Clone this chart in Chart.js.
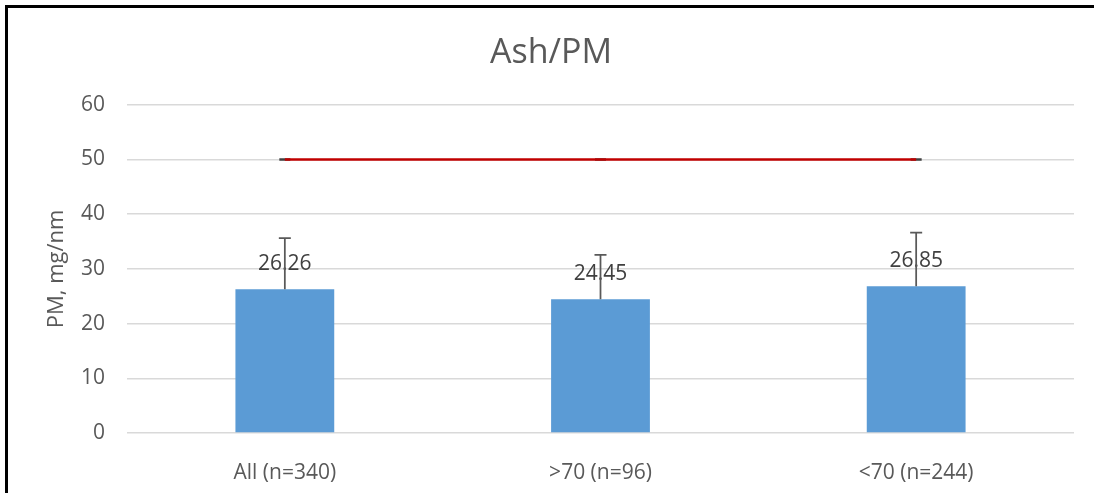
<!DOCTYPE html>
<html>
<head>
<meta charset="utf-8">
<script src="https://cdn.jsdelivr.net/npm/chart.js@4.4.1/dist/chart.umd.min.js"></script>
<style>
html,body{margin:0;padding:0;background:#fff;overflow:hidden;}
#wrap{position:relative;width:1094px;height:493px;}
canvas{display:block;}
</style>
</head>
<body>
<div id="wrap"><canvas id="c" width="1094" height="493"></canvas></div>
<script>
const categories = ['All (n=340)', '>70 (n=96)', '<70 (n=244)'];
const pmValues = [26.26, 24.45, 26.85];
const pmErrors = [9.35, 8.1, 9.8];
const limitValues = [50, 50, 50];
const yTicks = [0, 10, 20, 30, 40, 50, 60];

const FONT = "'Open Sans', 'Liberation Sans', sans-serif";
const TEXT = '#595959';

const frame = {
  id: 'frame',
  beforeDraw(chart) {
    const ctx = chart.ctx;
    ctx.save();
    ctx.fillStyle = '#fff';
    ctx.fillRect(0, 0, chart.width, chart.height);
    ctx.strokeStyle = '#000';
    ctx.lineWidth = 3;
    ctx.beginPath();
    ctx.moveTo(6.5, chart.height);
    ctx.lineTo(6.5, 6.5);
    ctx.lineTo(chart.width, 6.5);
    ctx.stroke();
    ctx.restore();
  }
};

const errorsAndLabels = {
  id: 'errorsAndLabels',
  afterDatasetsDraw(chart) {
    const ctx = chart.ctx;
    const meta = chart.getDatasetMeta(1);
    const y = chart.scales.y;
    ctx.save();
    meta.data.forEach((bar, i) => {
      const x = bar.x;
      const top = bar.y;
      ctx.fillStyle = '#404040';
      ctx.font = "21px " + FONT;
      ctx.textAlign = 'center';
      ctx.textBaseline = 'middle';
      ctx.fillText(pmValues[i].toFixed(2), x, top - 25);
      const ey = y.getPixelForValue(pmValues[i] + pmErrors[i]);
      ctx.strokeStyle = '#595959';
      ctx.lineWidth = 1.75;
      ctx.beginPath();
      ctx.moveTo(x, top);
      ctx.lineTo(x, ey);
      ctx.moveTo(x - 6, ey);
      ctx.lineTo(x + 6, ey);
      ctx.stroke();
    });
    ctx.restore();
  }
};

new Chart(document.getElementById('c'), {
  data: {
    labels: categories,
    datasets: [
      {
        type: 'line',
        label: 'Limit',
        data: limitValues,
        borderColor: '#C00000',
        borderWidth: 2.5,
        pointRadius: 0,
        fill: false,
        order: 0
      },
      {
        type: 'bar',
        label: 'PM',
        data: pmValues,
        backgroundColor: '#5B9BD5',
        borderWidth: 0,
        barPercentage: 0.313,
        categoryPercentage: 1,
        order: 2
      },
      {
        type: 'line',
        label: 'LimitMarkers',
        data: limitValues,
        showLine: false,
        pointStyle: 'line',
        pointRadius: 5.5,
        pointBorderColor: '#404040',
        pointBorderWidth: 2.5,
        order: 1
      }
    ]
  },
  options: {
    responsive: false,
    animation: false,
    layout: { padding: { left: 28, right: 20, top: 0, bottom: 0 } },
    plugins: {
      legend: { display: false },
      tooltip: { enabled: false },
      title: {
        display: true,
        text: 'Ash/PM',
        color: TEXT,
        font: { family: FONT, size: 34, weight: 'normal', lineHeight: 1.2 },
        padding: { top: 33, bottom: 31 }
      }
    },
    scales: {
      x: {
        grid: { display: false },
        border: { display: false },
        ticks: { color: TEXT, font: { family: FONT, size: 21 }, padding: 19 },
        afterFit(s) { s.height = 60; }
      },
      y: {
        min: 0,
        max: 60,
        afterBuildTicks(s) { s.ticks = yTicks.map(v => ({ value: v })); },
        grid: { color: '#D9D9D9', lineWidth: 1.5, drawTicks: false },
        border: { display: false },
        ticks: { color: TEXT, font: { family: FONT, size: 21 }, padding: 22 },
        title: {
          display: true,
          text: 'PM, mg/nm',
          color: TEXT,
          font: { family: FONT, size: 22, lineHeight: 1.2 },
          padding: { top: 16, bottom: 0 }
        },
        afterFit(s) { s.width = 99; }
      }
    }
  },
  plugins: [frame, errorsAndLabels]
});
</script>
</body>
</html>
